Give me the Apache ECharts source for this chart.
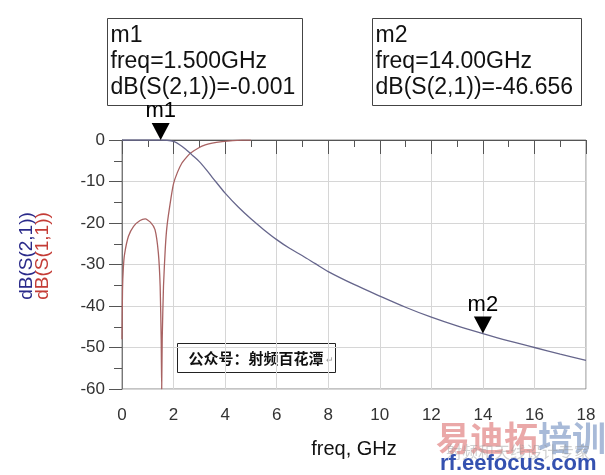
<!DOCTYPE html>
<html>
<head>
<meta charset="utf-8">
<script src="https://cdn.jsdelivr.net/npm/echarts@6/dist/echarts.min.js"></script>
<style>
  html, body { margin: 0; padding: 0; background: #fff; }
  #main { width: 605px; height: 475px; }
</style>
</head>
<body>
<div id="main"></div>
<script>
// S21 [freq GHz, dB]
var s21Freq = [0, 0.5, 1, 1.5, 1.75, 2, 2.25, 2.5, 2.65, 2.75, 3, 3.25, 3.5, 3.75, 4, 4.5, 5, 5.5, 6, 6.5, 7, 7.5, 8, 9, 10, 11, 12, 13, 14, 15, 16, 17, 18];
var s21dB = [0, 0, 0, -0.001, -0.06, -0.35, -1.2, -2.4, -3.2, -3.8, -5.2, -7.0, -9.0, -10.9, -12.8, -16.1, -19.0, -21.6, -24.0, -26.1, -27.9, -29.8, -31.7, -34.8, -37.6, -40.3, -42.7, -44.8, -46.656, -48.4, -50.0, -51.6, -53.1];

// S11
var s11Freq = [0, 0.02, 0.05, 0.1, 0.25, 0.45, 0.7, 0.9, 1.1, 1.28, 1.41, 1.48, 1.52, 1.54, 1.56, 1.61, 1.68, 1.75, 1.9, 2.0, 2.15, 2.32, 2.5, 2.65, 3.0, 3.23, 3.5, 3.88, 4.3, 4.66, 5.0];
var s11dB = [-48, -36, -31, -27.5, -23.2, -20.8, -19.4, -19.0, -19.8, -21.6, -27.2, -35.2, -48, -60, -48, -35.2, -26, -20.5, -14, -10.5, -7.8, -5.6, -4.2, -3.2, -1.8, -1.2, -0.75, -0.4, -0.15, -0.04, -0.01];

var xTicks = [0, 2, 4, 6, 8, 10, 12, 14, 16, 18];
var yTicks = [0, -10, -20, -30, -40, -50, -60];

var markers = [
  { name: "m1", freq: 1.5, db: -0.001 },
  { name: "m2", freq: 14, db: -46.656 },
];

function pairs(xs, ys) {
  return xs.map(function (x, i) { return [x, ys[i]]; });
}

var font = "Liberation Sans, Arial, sans-serif";
var tickColor = "#555";

var myChart = echarts.init(document.getElementById("main"));

var option = {
  animation: false,
  grid: {
    left: 122, right: 19, top: 140, bottom: 86,
    show: true, borderColor: "#888", borderWidth: 1,
    outerBoundsMode: "none",
  },
  xAxis: {
    type: "value",
    min: xTicks[0], max: xTicks[xTicks.length - 1], interval: 2,
    axisLine: { lineStyle: { color: tickColor, width: 1 } },
    axisTick: { show: true, length: 14, lineStyle: { color: tickColor } },
    minorTick: { show: true, splitNumber: 2, length: 7, lineStyle: { color: tickColor } },
    splitLine: { show: true, lineStyle: { color: "#d6d6d6" } },
    axisLabel: { margin: 18, fontSize: 17, color: "#333", fontFamily: font },
    name: "freq, GHz",
    nameLocation: "middle",
    nameGap: 50,
    nameTextStyle: { fontSize: 20, color: "#111", fontFamily: font },
  },
  yAxis: {
    type: "value",
    min: yTicks[yTicks.length - 1], max: yTicks[0], interval: 10,
    axisLine: { show: true, lineStyle: { color: "#777", width: 1 } },
    axisTick: { show: true, length: 13, lineStyle: { color: tickColor } },
    minorTick: { show: true, splitNumber: 2, length: 8, lineStyle: { color: tickColor } },
    splitLine: { show: true, lineStyle: { color: "#d6d6d6" } },
    axisLabel: { margin: 17, fontSize: 17, color: "#333", fontFamily: font },
  },
  series: [
    {
      name: "dB(S(1,1))",
      type: "line",
      data: pairs(s11Freq, s11dB),
      showSymbol: false,
      smooth: 0.2,
      lineStyle: { color: "#a86262", width: 1.3 },
      z: 2,
    },
    {
      name: "dB(S(2,1))",
      type: "line",
      data: pairs(s21Freq, s21dB),
      showSymbol: false,
      smooth: 0.3,
      lineStyle: { color: "#66668c", width: 1.3 },
      z: 3,
      markPoint: {
        symbol: "path://M0,0 L10,0 L5,10 Z",
        symbolSize: [18, 17],
        symbolOffset: [0, "-50%"],
        itemStyle: { color: "#000" },
        label: {
          show: true, position: "top", distance: 1,
          formatter: "{b}", fontSize: 22, color: "#000", fontFamily: font,
        },
        data: markers.map(function (m) {
          return { name: m.name, coord: [m.freq, m.db] };
        }),
      },
    },
  ],
  graphic: [
    // marker readout boxes
    {
      type: "group", left: 107, top: 18,
      children: [
        { type: "rect", shape: { x: 0, y: 0, width: 195, height: 87 },
          style: { fill: "#fff", stroke: "#444", lineWidth: 1 } },
        { type: "text", x: 3, y: 4,
          style: { text: "m1\nfreq=" + markers[0].freq.toFixed(3) + "GHz\ndB(S(2,1))=" + markers[0].db.toFixed(3),
                   font: "23px " + font, lineHeight: 26, fill: "#111" } },
      ],
    },
    {
      type: "group", left: 372, top: 18,
      children: [
        { type: "rect", shape: { x: 0, y: 0, width: 209, height: 87 },
          style: { fill: "#fff", stroke: "#444", lineWidth: 1 } },
        { type: "text", x: 3, y: 4,
          style: { text: "m2\nfreq=" + markers[1].freq.toFixed(2) + "GHz\ndB(S(2,1))=" + markers[1].db.toFixed(3),
                   font: "23px " + font, lineHeight: 26, fill: "#111" } },
      ],
    },
    // y axis names, rotated
    {
      type: "text", x: 27, y: 256, rotation: Math.PI / 2,
      style: { text: "dB(S(2,1))", font: "19px " + font, fill: "#2b2b8a", align: "center", verticalAlign: "middle" },
    },
    {
      type: "text", x: 43, y: 256, rotation: Math.PI / 2,
      style: { text: "dB(S(1,1))", font: "19px " + font, fill: "#c43c36", align: "center", verticalAlign: "middle" },
    },
    // note box
    {
      type: "group", left: 177, top: 343, z: 10,
      children: [
        { type: "rect", shape: { x: 0, y: 0, width: 158, height: 29 },
          style: { fill: "#fff", stroke: "#222", lineWidth: 1 } },
        { type: "text", x: 11, y: 15,
          style: { text: "公众号：射频百花潭", font: "bold 15px Noto Sans CJK SC", fill: "#111", verticalAlign: "middle" } },
        { type: "text", x: 148, y: 17,
          style: { text: "↵", font: "9px " + font, fill: "#999", verticalAlign: "middle" } },
      ],
    },
    // watermark
    {
      type: "text", x: 436, y: 438, z: 10,
      style: { text: "易迪拓", font: "bold 34px Noto Sans CJK SC", fill: "rgba(220,110,110,0.6)", verticalAlign: "middle" },
    },
    {
      type: "text", x: 538, y: 438, z: 10,
      style: { text: "培训", font: "bold 34px Noto Sans CJK SC", fill: "rgba(110,140,190,0.6)", verticalAlign: "middle" },
    },
    {
      type: "text", x: 446, y: 452, z: 10,
      style: { text: "射频和天线设计专家", font: "16px Noto Sans CJK SC", fill: "rgba(150,150,150,0.45)", verticalAlign: "middle" },
    },
    {
      type: "text", x: 440, y: 464, z: 11,
      style: { text: "rf.eefocus.com", font: "bold 22px " + font, fill: "#3451b0", verticalAlign: "middle" },
    },
  ],
};

option && myChart.setOption(option);
</script>
</body>
</html>
